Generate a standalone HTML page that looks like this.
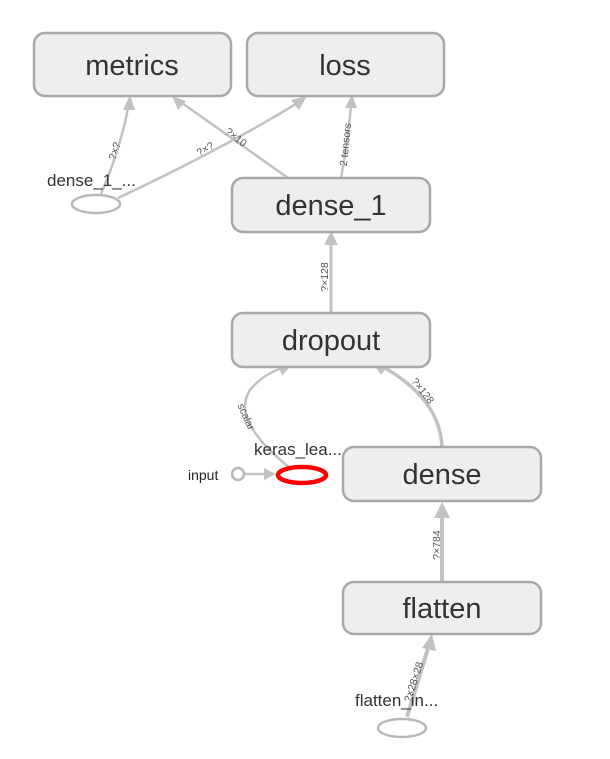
<!DOCTYPE html>
<html><head><meta charset="utf-8"><style>
html,body{margin:0;padding:0;background:#fff;}
svg{display:block;font-family:"Liberation Sans",sans-serif;}
</style></head><body>
<svg width="610" height="759" viewBox="0 0 610 759" xmlns="http://www.w3.org/2000/svg">
<g fill="none" stroke="#c2c2c2" stroke-width="2.5">
<path d="M101 194 Q120 150 128 108"/>
<path d="M118 198 Q220 150 296 104"/>
<path d="M288 178 L182 103"/>
<path d="M341 178 Q348 140 351 106"/>
<path d="M331 313 L331 242" stroke-width="3"/>
<path d="M290 468 Q230 420 250 390 Q262 375 282 368"/>
<path d="M442 447 Q440 400 385 368" stroke-width="3.5"/>
<path d="M244 474 L268 474"/>
<path d="M442 582 L442 512" stroke-width="4"/>
<path d="M407 717 L429 645" stroke-width="4"/>
</g>
<g fill="#c2c2c2">
<polygon points="130,95 123,110 135,110"/>
<polygon points="307,96 291,100 299,110"/>
<polygon points="172,96 178,110 186,101"/>
<polygon points="352,94 345,108 357,108"/>
<polygon points="331,231 324,245 338,245"/>
<polygon points="292,364 278,364 282,376"/>
<polygon points="373,363 381,375 389,365"/>
<polygon points="276,474 264,468 264,480"/>
<polygon points="442,502 434,518 450,518"/>
<polygon points="432,634 422,648 436,651"/>
</g>
<g fill="#eeeeee" stroke="#a8a8a8" stroke-width="2.5">
<rect x="34" y="33" width="197" height="63" rx="11"/>
<rect x="247" y="33" width="197" height="63" rx="11"/>
<rect x="232" y="178" width="198" height="54" rx="11"/>
<rect x="232" y="313" width="198" height="54" rx="11"/>
<rect x="343" y="447" width="198" height="54" rx="11"/>
<rect x="343" y="582" width="198" height="52" rx="11"/>
</g>
<g fill="#333" font-size="29" text-anchor="middle">
<text x="132" y="75">metrics</text>
<text x="345" y="75">loss</text>
<text x="331" y="215">dense_1</text>
<text x="331" y="350">dropout</text>
<text x="442" y="484">dense</text>
<text x="442" y="618">flatten</text>
</g>
<g fill="none" stroke="#b8b8b8" stroke-width="2.5">
<ellipse cx="96" cy="204" rx="24" ry="9"/>
<ellipse cx="402" cy="728" rx="24" ry="9"/>
<circle cx="238" cy="474" r="6"/>
</g>
<ellipse cx="302" cy="475" rx="24" ry="8" fill="none" stroke="#ff0000" stroke-width="4.5"/>
<g fill="#333" font-size="17">
<text x="47" y="186">dense_1_...</text>
<text x="254" y="455">keras_lea...</text>
<text x="355" y="706">flatten_in...</text>
<text x="188" y="480" font-size="14" fill="#222">input</text>
</g>
<g fill="#555" font-size="10.5" text-anchor="middle">
<text transform="translate(118,152) rotate(-72)">?×?</text>
<text transform="translate(207,152) rotate(-30)">?×?</text>
<text transform="translate(234,140) rotate(38)">?×10</text>
<text transform="translate(349,145) rotate(-84)">2 tensors</text>
<text transform="translate(328,277) rotate(-90)">?×128</text>
<text transform="translate(243,418) rotate(66)">scalar</text>
<text transform="translate(420,393) rotate(52)">?×128</text>
<text transform="translate(440,545) rotate(-90)">?×784</text>
<text transform="translate(417,683) rotate(-72)">?×28×28</text>
</g>
</svg>
</body></html>
